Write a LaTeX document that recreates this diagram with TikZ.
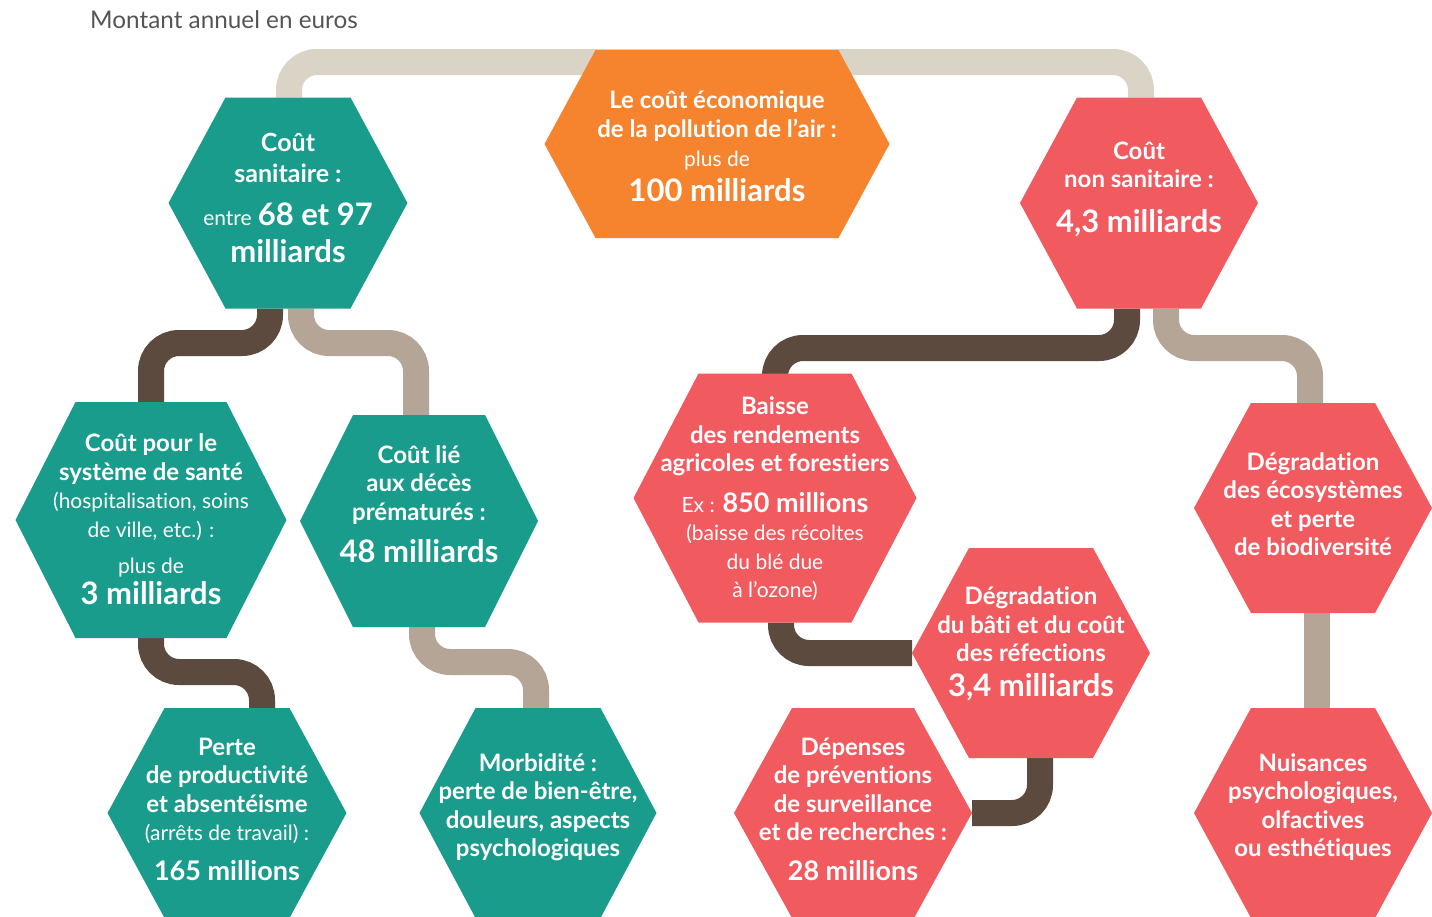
\documentclass[tikz,border=0pt]{standalone}
\usepackage{fontspec}
\setmainfont{Lato}[Ligatures=CommonOff]
\usetikzlibrary{calc}
\pgfdeclarelayer{paper}
\pgfdeclarelayer{links}
\pgfsetlayers{paper,links,main}

\definecolor{hexteal}{HTML}{1A9C8D}
\definecolor{hexcoral}{HTML}{F15B60}
\definecolor{hexorange}{HTML}{F6842F}
\definecolor{linkbeige}{HTML}{D9D4C6}
\definecolor{linkdark}{HTML}{5D4A3E}
\definecolor{linktaupe}{HTML}{B4A597}
\definecolor{titlegray}{HTML}{555555}

% text weights used inside the hexagons
\newcommand\txHead{\bfseries\fontsize{24}{28.5}\selectfont}
\newcommand\txHeadL{\bfseries\fontsize{25}{31.5}\selectfont}
\newcommand\txLight{\mdseries\fontsize{21}{28}\selectfont}
\newcommand\txBig{\bfseries\fontsize{31}{34}\selectfont}
\newcommand\txMid{\bfseries\fontsize{27}{30}\selectfont}

% fill a flat-topped hexagon over a rectangular node: #1 node, #2 inset of the top/bottom edges, #3 colour
\newcommand\hexfill[3]{%
  \fill[#3] (#1.west) -- ([xshift=#2]#1.north west) -- ([xshift=-#2]#1.north east)
    -- (#1.east) -- ([xshift=-#2]#1.south east) -- ([xshift=#2]#1.south west) -- cycle;}

\begin{document}
\begin{tikzpicture}[x=1pt, y=-1pt,
  hexbox/.style={rectangle, inner sep=0pt, outer sep=0pt, minimum width=238pt, minimum height=210pt},
  txt/.style={text=white, align=center, inner sep=0pt, font=\txHead},
  link/.style={line width=26pt, rounded corners=28pt}]

\useasboundingbox (0,0) rectangle (1432,916);
\begin{pgfonlayer}{paper}
  \fill[white] (0,0) rectangle (1432,916);
\end{pgfonlayer}

\node[anchor=west, text=titlegray, inner sep=0pt, font=\fontsize{24.3}{27}\selectfont] (title) at (90,20) {Montant annuel en euros};

% hexagon frames
\node[hexbox, minimum width=345pt, minimum height=188pt] (cost) at (717,144) {};
\node[hexbox, minimum width=239pt, minimum height=211pt] (san) at (288,203) {};
\node[hexbox, minimum height=211pt] (nonsan) at (1139,203) {};
\node[hexbox, minimum width=271pt, minimum height=236pt] (sys) at (151,520) {};
\node[hexbox, minimum height=212pt] (deces) at (419,521) {};
\node[hexbox, minimum width=239pt] (perte) at (227,813) {};
\node[hexbox, minimum width=237pt] (morb) at (538,813) {};
\node[hexbox, minimum width=283pt, minimum height=249pt] (baisse) at (775,498) {};
\node[hexbox] (ecos) at (1313,508) {};
\node[hexbox] (bati) at (1031,653) {};
\node[hexbox] (dep) at (853,813) {};
\node[hexbox] (nuis) at (1313,813) {};

% connectors, behind the hexagons
\begin{pgfonlayer}{links}
  \coordinate (sanL) at ([xshift=-18pt]san.south);
  \coordinate (sanR) at ([xshift=13pt]san.south);
  \coordinate (nonsanL) at ([xshift=-12pt]nonsan.south);
  \coordinate (nonsanR) at ([xshift=27pt]nonsan.south);
  \coordinate (decesT) at ([xshift=-3pt]deces.north);
  \coordinate (perteT) at ([xshift=35pt]perte.north);
  \coordinate (morbT) at ([xshift=-2pt]morb.north);
  \coordinate (ecosT) at ([xshift=-3pt]ecos.north);

  \draw[link, linkbeige] ([xshift=1pt]san.north) |- ([xshift=2pt]nonsan.north |- 0,62) -- ([xshift=2pt]nonsan.north);

  \draw[link, linkdark] (sanL) |- (sys.north |- 0,343) -- (sys.north);
  \draw[link, linktaupe] (sanR) |- (decesT |- 0,343) -- (decesT);

  \draw[link, linkdark] (sys.south) |- (perteT |- 0,672) -- (perteT);
  \draw[link, linktaupe] ([xshift=3pt]deces.south) |- (morbT |- 0,662) -- (morbT);

  \draw[link, linkdark] (nonsanL) |- (baisse.north |- 0,348) -- (baisse.north);
  \draw[link, linktaupe] (nonsanR) |- (ecosT |- 0,348) -- (ecosT);

  \draw[link, linkdark] ([xshift=6pt]baisse.south) |- (bati.west);
  \draw[link, linkdark] ([xshift=9pt]bati.south) |- (dep.east);
  \draw[link, linktaupe] ([xshift=4pt]ecos.south) -- ([xshift=4pt]nuis.north);
\end{pgfonlayer}

% hexagon fills
\hexfill{cost}{51pt}{hexorange}
\hexfill{san}{57pt}{hexteal}
\hexfill{nonsan}{57pt}{hexcoral}
\hexfill{sys}{60pt}{hexteal}
\hexfill{deces}{53pt}{hexteal}
\hexfill{perte}{57pt}{hexteal}
\hexfill{morb}{56pt}{hexteal}
\hexfill{baisse}{65pt}{hexcoral}
\hexfill{ecos}{57pt}{hexcoral}
\hexfill{bati}{57pt}{hexcoral}
\hexfill{dep}{58pt}{hexcoral}
\hexfill{nuis}{57pt}{hexcoral}

% texts
\node[txt] (tcost) at (717,146) {Le coût économique\\de la pollution de l’air :\\[1pt]{\txLight plus de}\\[6pt]{\txBig 100 milliards}};
\node[txt, font=\txHeadL] (tsan) at (288,198) {Coût\\sanitaire :\\[11pt]{\txLight entre} {\txBig 68 et 97}\\[6pt]{\txBig milliards}};
\node[txt] (tnonsan) at (1139,189) {Coût\\non sanitaire :\\[16pt]{\txBig 4,3 milliards}};
\node[txt] (tsys) at (151,519) {Coût pour le\\système de santé\\{\txLight (hospitalisation, soins}\\{\txLight de ville, etc.) :}\\[8pt]{\txLight plus de}\\[2pt]{\txBig 3 milliards}};
\node[txt] (tdeces) at (419,504) {Coût lié\\aux décès\\prématurés :\\[14pt]{\txBig 48 milliards}};
\node[txt] (tperte) at (227,809) {Perte\\de productivité\\et absentéisme\\{\txLight (arrêts de travail) :}\\[11pt]{\txMid 165 millions}};
\node[txt] (tmorb) at (538,807) {Morbidité :\\perte de bien-être,\\douleurs, aspects\\psychologiques};
\node[txt] (tbaisse) at (775,499) {Baisse\\des rendements\\agricoles et forestiers\\[12pt]{\txLight Ex :} {\txMid 850 millions}\\{\txLight (baisse des récoltes}\\{\txLight du blé due}\\{\txLight à l’ozone)}};
\node[txt] (tecos) at (1313,504) {Dégradation\\des écosystèmes\\et perte\\de biodiversité};
\node[txt] (tbati) at (1031,644) {Dégradation\\du bâti et du coût\\des réfections\\[6pt]{\txBig 3,4 milliards}};
\node[txt] (tdep) at (853,809) {Dépenses\\de préventions\\de surveillance\\et de recherches :\\[11pt]{\txMid 28 millions}};
\node[txt] (tnuis) at (1313,807) {Nuisances\\psychologiques,\\olfactives\\ou esthétiques};

\end{tikzpicture}
\end{document}
